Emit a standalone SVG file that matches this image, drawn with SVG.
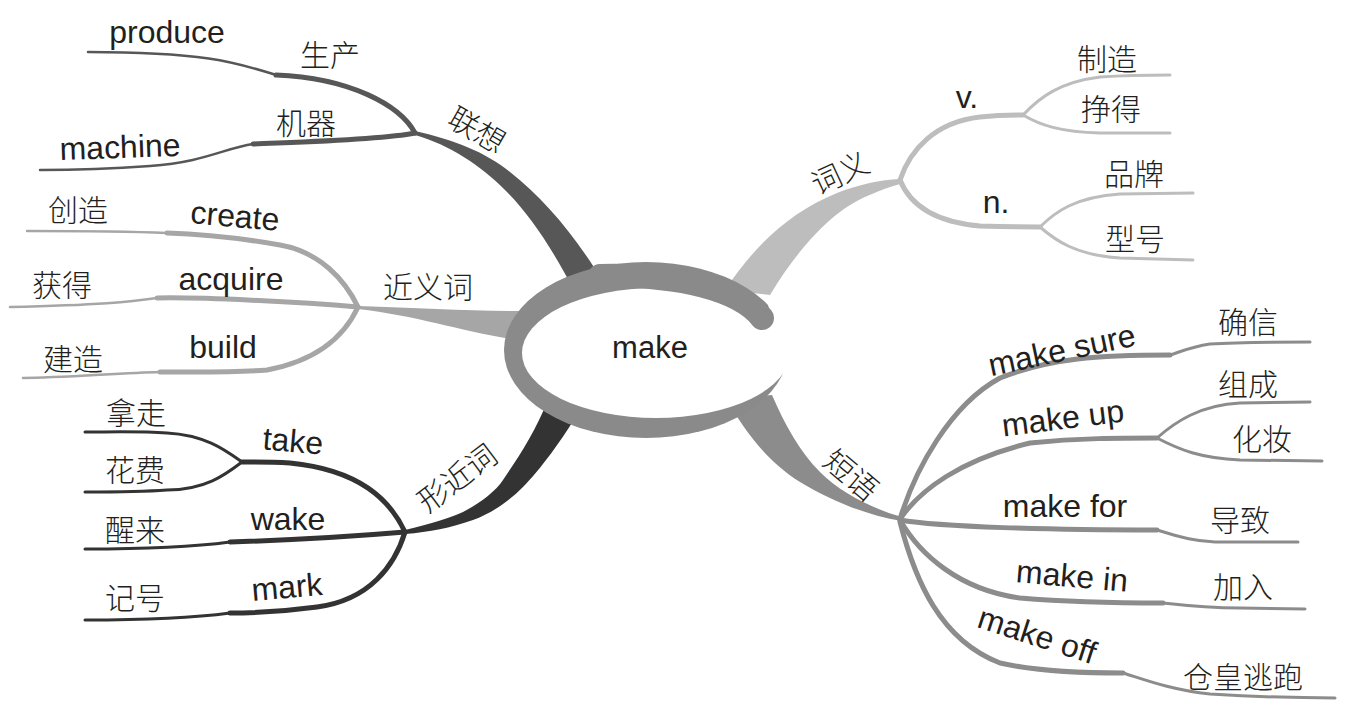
<svg xmlns="http://www.w3.org/2000/svg" width="1353" height="711" viewBox="0 0 1353 711">
<style>
.en{font-family:"Liberation Sans",Arial,sans-serif;font-size:32px;fill:#231f20;text-anchor:middle}
.zh{font-family:"Noto Sans CJK SC","Noto Sans",sans-serif;font-size:30px;fill:#231f20;text-anchor:middle;font-weight:300}
.s{fill:none;stroke-linecap:round;stroke-linejoin:round}
.k{stroke-width:5}
.t{stroke-width:2.5}
.c1{stroke:#575757}
.c2{stroke:#a6a6a6}
.c3{stroke:#333333}
.c4{stroke:#bdbdbd}
.c5{stroke:#8c8c8c}
</style>
<rect width="1353" height="711" fill="#ffffff"/>
<g id="connectors">
  <!-- main branches -->
  <path d="M415,131 C455,140 485,152 510,172 C545,200 575,235 605,285 L575,292 C550,245 530,215 505,190 C480,165 450,145 415,135 Z" fill="#575757"/>
  <path d="M358,306 C420,308 470,311 525,311 L525,341 C470,334 420,316 358,309 Z" fill="#a6a6a6"/>
  <path d="M405,530 C430,524 450,518 463,512 C480,503 495,492 503,480 C520,455 535,432 548,400 L580,410 C562,440 540,470 523,487 C508,502 490,514 473,520 C450,528 430,532 405,534 Z" fill="#333333"/>
  <path d="M725,290 C755,245 790,212 837,193 C860,184 880,180 900,179 L900,184 C880,190 860,198 847,207 C830,218 800,245 770,295 Z" fill="#bdbdbd"/>
  <path d="M725,398 C745,430 765,460 800,482 C830,500 865,515 902,521 L902,517 C870,508 840,492 820,472 C800,452 785,425 772,395 Z" fill="#8c8c8c"/>
  <!-- 联想 -->
  <path class="s k c1" d="M415,133 C400,105 350,78 276,75"/>
  <path class="s t c1" d="M276,75 C240,64 210,52 88,52"/>
  <path class="s k c1" d="M415,133 C380,140 300,142 253,144"/>
  <path class="s t c1" d="M253,144 C225,148 205,162 150,166 S70,170 40,170"/>
  <!-- 近义词 -->
  <path class="s k c2" d="M358,307 C345,280 320,252 280,245 C240,238 200,234 167,233"/>
  <path class="s t c2" d="M167,233 C120,231 60,231 27,231"/>
  <path class="s k c2" d="M358,307 C300,302 200,297 157,298"/>
  <path class="s t c2" d="M157,298 C130,302 100,305 10,307"/>
  <path class="s k c2" d="M358,307 C345,335 320,360 267,370 C230,373 190,372 160,372"/>
  <path class="s t c2" d="M160,372 C120,373 60,378 23,378"/>
  <!-- 形近词 -->
  <path class="s k c3" d="M405,532 C390,500 360,470 290,463 C270,462 255,462 242,462"/>
  <path class="s c3" stroke-width="3" d="M242,462 C225,450 205,435 167,433 C140,431 110,432 85,432"/>
  <path class="s c3" stroke-width="3" d="M242,462 C225,475 205,490 167,490 C140,492 110,492 85,492"/>
  <path class="s k c3" d="M405,532 C370,535 290,540 230,542"/>
  <path class="s c3" stroke-width="3" d="M230,542 C200,546 150,549 85,549"/>
  <path class="s k c3" d="M405,532 C395,565 370,600 317,607 C280,612 250,613 230,613"/>
  <path class="s c3" stroke-width="3" d="M230,613 C200,617 150,620 85,620"/>
  <!-- 词义 -->
  <path class="s k c4" d="M900,180 C910,150 935,122 980,117 C1000,115 1013,115 1023,115"/>
  <path class="s c4" stroke-width="3" d="M1023,115 C1040,97 1060,82 1100,77 C1130,75 1150,75 1170,75"/>
  <path class="s c4" stroke-width="3" d="M1023,115 C1040,125 1060,132 1100,133 L1170,133"/>
  <path class="s k c4" d="M900,180 C910,205 935,222 980,226 C1010,227 1030,227 1040,227"/>
  <path class="s c4" stroke-width="3" d="M1040,227 C1055,212 1075,197 1120,194 L1193,193"/>
  <path class="s c4" stroke-width="3" d="M1040,227 C1055,240 1075,255 1120,258 L1193,260"/>
  <!-- 短语 -->
  <path class="s k c5" d="M900,519 C915,470 950,405 1000,378 C1050,358 1100,355 1170,355"/>
  <path class="s c5" stroke-width="3" d="M1170,355 C1180,352 1190,347 1210,344 C1240,342 1280,342 1310,342"/>
  <path class="s k c5" d="M900,519 C920,490 960,460 1030,443 C1080,438 1120,438 1157,438"/>
  <path class="s c5" stroke-width="3" d="M1157,438 C1175,422 1200,405 1240,403 L1310,402"/>
  <path class="s c5" stroke-width="3" d="M1157,438 C1180,450 1200,458 1240,460 L1322,461"/>
  <path class="s k c5" d="M900,520 C940,527 1050,530 1157,530"/>
  <path class="s c5" stroke-width="3" d="M1157,530 C1175,535 1190,541 1215,542 L1298,542"/>
  <path class="s k c5" d="M900,520 C920,555 960,590 1020,598 C1080,603 1130,603 1163,603"/>
  <path class="s c5" stroke-width="3" d="M1163,603 C1190,606 1210,608 1240,608 L1305,609"/>
  <path class="s k c5" d="M900,522 C915,580 940,640 1000,663 C1040,672 1090,673 1123,673"/>
  <path class="s c5" stroke-width="3" d="M1123,673 C1140,678 1170,690 1210,694 C1260,697 1300,698 1335,698"/>
</g>
<g id="center">
  <ellipse cx="646" cy="350" rx="142" ry="88" fill="#8a8a8a"/>
  <ellipse cx="656" cy="353" rx="134" ry="65" fill="#ffffff"/>
  <path d="M768,296 L800,296 L800,340 L790,350 L770,350 Z" fill="#ffffff"/>
  <path d="M600,276 C680,274 740,290 762,318" fill="none" stroke="#8a8a8a" stroke-width="24" stroke-linecap="round"/>
  <text class="en" x="650" y="358" style="font-size:31px">make</text>
</g>
<g id="n-lianxiang"><text class="zh" transform="translate(477,130) rotate(30)" x="0" y="11">联想</text></g>
<g id="n-shengchan"><text class="zh" x="330" y="66">生产</text></g>
<g id="n-produce"><text class="en" x="167" y="43">produce</text></g>
<g id="n-jiqi"><text class="zh" x="306" y="134">机器</text></g>
<g id="n-machine"><text class="en" transform="translate(120,147) rotate(-2)" x="0" y="11">machine</text></g>
<g id="n-jinyici"><text class="zh" x="428" y="298">近义词</text></g>
<g id="n-create"><text class="en" transform="translate(235,217) rotate(5)" x="0" y="10">create</text></g>
<g id="n-chuangzao"><text class="zh" x="78" y="221">创造</text></g>
<g id="n-acquire"><text class="en" x="231" y="290">acquire</text></g>
<g id="n-huode"><text class="zh" x="62" y="296">获得</text></g>
<g id="n-build"><text class="en" x="223" y="358">build</text></g>
<g id="n-jianzao"><text class="zh" x="73" y="370">建造</text></g>
<g id="n-xingjinci"><text class="zh" transform="translate(457,478) rotate(-37)" x="0" y="11">形近词</text></g>
<g id="n-take"><text class="en" transform="translate(293,442) rotate(5)" x="0" y="10">take</text></g>
<g id="n-nazou"><text class="zh" x="136" y="424">拿走</text></g>
<g id="n-huafei"><text class="zh" x="135" y="481">花费</text></g>
<g id="n-wake"><text class="en" x="288" y="530">wake</text></g>
<g id="n-xinglai"><text class="zh" x="135" y="541">醒来</text></g>
<g id="n-mark"><text class="en" transform="translate(287,588) rotate(-5)" x="0" y="10">mark</text></g>
<g id="n-jihao"><text class="zh" x="135" y="609">记号</text></g>
<g id="n-ciyi"><text class="zh" transform="translate(840,173) rotate(-25)" x="0" y="11">词义</text></g>
<g id="n-v"><text class="en" x="967" y="108">v.</text></g>
<g id="n-zhizao"><text class="zh" x="1107" y="70">制造</text></g>
<g id="n-zhengde"><text class="zh" x="1111" y="120">挣得</text></g>
<g id="n-n"><text class="en" x="996" y="213">n.</text></g>
<g id="n-pinpai"><text class="zh" x="1134" y="185">品牌</text></g>
<g id="n-xinghao"><text class="zh" x="1135" y="250">型号</text></g>
<g id="n-duanyu"><text class="zh" transform="translate(851,475) rotate(40)" x="0" y="11">短语</text></g>
<g id="n-makesure"><text class="en" transform="translate(1062,351) rotate(-12)" x="0" y="10">make sure</text></g>
<g id="n-quexin"><text class="zh" x="1248" y="333">确信</text></g>
<g id="n-makeup"><text class="en" transform="translate(1063,419) rotate(-7)" x="0" y="10">make up</text></g>
<g id="n-zucheng"><text class="zh" x="1248" y="395">组成</text></g>
<g id="n-huazhuang"><text class="zh" x="1262" y="450">化妆</text></g>
<g id="n-makefor"><text class="en" x="1065" y="517">make for</text></g>
<g id="n-daozhi"><text class="zh" x="1240" y="531">导致</text></g>
<g id="n-makein"><text class="en" transform="translate(1072,577) rotate(5)" x="0" y="10">make in</text></g>
<g id="n-jiaru"><text class="zh" x="1243" y="598">加入</text></g>
<g id="n-makeoff"><text class="en" transform="translate(1037,636) rotate(18)" x="0" y="10">make off</text></g>
<g id="n-canghuang"><text class="zh" x="1243" y="688">仓皇逃跑</text></g>
</svg>
